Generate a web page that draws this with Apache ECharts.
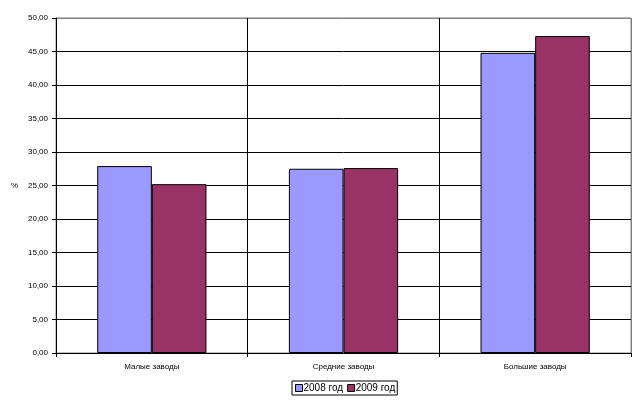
<!DOCTYPE html>
<html><head><meta charset="utf-8">
<script src="https://cdn.jsdelivr.net/npm/echarts@6/dist/echarts.min.js"></script>
<style>html,body{margin:0;padding:0;background:#fff}#c{width:643px;height:400px}</style>
</head><body><div id="c"></div>
<script>
var categories = ['Малые заводы', 'Средние заводы', 'Большие заводы'];
var seriesNames = ['2008 год', '2009 год'];
var values2008 = [27.9, 27.5, 44.8];
var values2009 = [25.2, 27.6, 47.3];
var yMin = 0, yMax = 50, yStep = 5;

var font = 'Liberation Sans, Arial, sans-serif';
var hColors = [];
for (var i = 0; i <= (yMax - yMin) / yStep; i++) hColors.push(i === (yMax - yMin) / yStep ? '#808080' : '#000');

var chart = echarts.init(document.getElementById('c'), null, {renderer: 'canvas'});
chart.setOption({
  animation: false,
  backgroundColor: '#fff',
  textStyle: {fontFamily: font},
  grid: {left: 56, right: 12, top: 18, bottom: 47, show: true, borderColor: '#808080', borderWidth: 1, backgroundColor: '#fff'},
  legend: {
    data: seriesNames, bottom: 5, left: 292,
    icon: 'rect', itemWidth: 7, itemHeight: 7, itemGap: 4,
    borderColor: '#000', borderWidth: 1, padding: [2, 2, 2, 3],
    textStyle: {fontFamily: font, fontSize: 10, color: '#000', padding: [0, 0, 0, -4]},
    itemStyle: {borderColor: '#000', borderWidth: 1}
  },
  xAxis: {
    type: 'category', data: categories,
    axisLine: {lineStyle: {color: '#000', width: 1}},
    axisTick: {show: true, length: 4, lineStyle: {color: '#000'}},
    axisLabel: {fontFamily: font, fontSize: 8, color: '#000', margin: 10},
    splitLine: {show: true, lineStyle: {color: ['#000', '#000', '#000', '#808080'], width: 1}}
  },
  yAxis: {
    type: 'value', min: yMin, max: yMax, interval: yStep,
    name: '%', nameLocation: 'middle', nameRotate: 0, nameGap: 38,
    nameTextStyle: {fontFamily: font, fontSize: 8, color: '#000'},
    axisLine: {show: true, lineStyle: {color: '#000', width: 1}},
    axisTick: {show: true, length: 4, lineStyle: {color: '#000'}},
    axisLabel: {fontFamily: font, fontSize: 8, color: '#000', margin: 8,
      formatter: function (v) { return v.toFixed(2).replace('.', ','); }},
    splitLine: {show: true, lineStyle: {color: hColors, width: 1}}
  },
  series: [
    {name: seriesNames[0], type: 'bar', data: values2008, barGap: '0%', barCategoryGap: '43%',
      itemStyle: {color: '#9999ff', borderColor: '#000', borderWidth: 1}},
    {name: seriesNames[1], type: 'bar', data: values2009, barGap: '0%', barCategoryGap: '43%',
      itemStyle: {color: '#993366', borderColor: '#000', borderWidth: 1}}
  ]
});
</script></body></html>
